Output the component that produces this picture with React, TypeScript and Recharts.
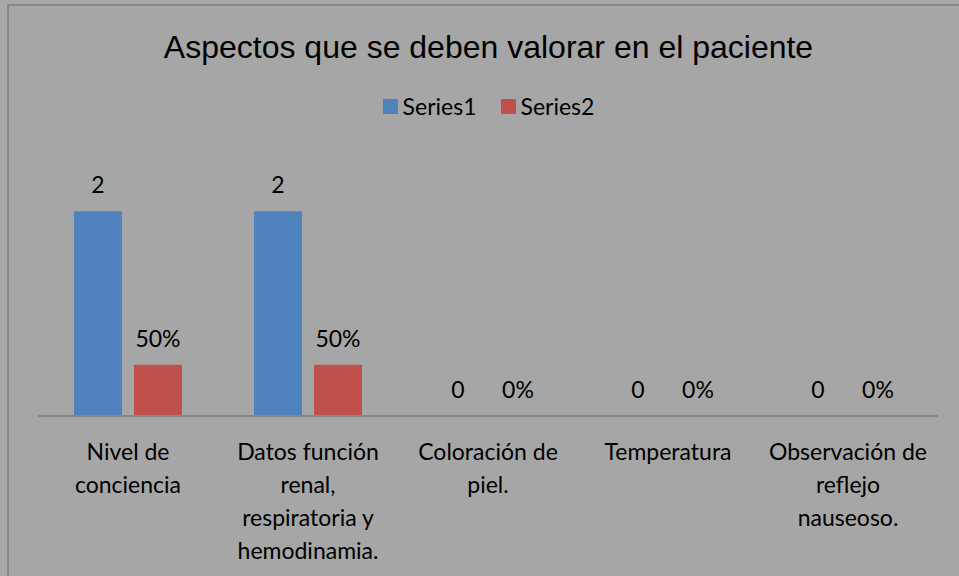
import React from 'react';
import { BarChart, Bar, XAxis, YAxis, Legend, LabelList } from 'recharts';

const categories = [
  'Nivel de conciencia',
  'Datos función renal, respiratoria y hemodinamia.',
  'Coloración de piel.',
  'Temperatura',
  'Observación de reflejo nauseoso.',
];
const tickLines = [
  ['Nivel de', 'conciencia'],
  ['Datos función', 'renal,', 'respiratoria y', 'hemodinamia.'],
  ['Coloración de', 'piel.'],
  ['Temperatura'],
  ['Observación de', 'reflejo', 'nauseoso.'],
];
const series1 = [2, 2, 0, 0, 0];
const series2 = [0.5, 0.5, 0, 0, 0];
const seriesNames = ['Series1', 'Series2'];
const title = 'Aspectos que se deben valorar en el paciente';

const data = categories.map((c, i) => ({ name: c, s1: series1[i], s2: series2[i], idx: i }));

const FONT = 'Lato, "Open Sans", sans-serif';
const BLUE = '#4F81BD';
const RED = '#C0504D';

const CatTick = (props: any) => {
  const { x, y, index } = props;
  const lines = tickLines[index] || [];
  return (
    <text x={x} y={y} textAnchor="middle" fill="#000" fontFamily={FONT} fontSize={23}>
      {lines.map((l, i) => (
        <tspan key={i} x={x} dy={i === 0 ? 44 : 33}>{l}</tspan>
      ))}
    </text>
  );
};

const makeLabel = (fmt: (v: number) => string) => (props: any) => {
  const { x, y, width, height, value } = props;
  const top = Math.min(Number(y), Number(y) + Number(height || 0));
  return (
    <text
      x={Number(x) + Number(width) / 2}
      y={top - 18}
      textAnchor="middle"
      fill="#000"
      fontFamily={FONT}
      fontSize={23}
    >
      {fmt(Number(value))}
    </text>
  );
};

const LegendContent = (props: any) => {
  const { payload } = props;
  return (
    <div style={{ display: 'flex', justifyContent: 'center', alignItems: 'center', height: 30 }}>
      {(payload || []).map((p: any, i: number) => (
        <div key={i} style={{ display: 'flex', alignItems: 'center', marginRight: i === 0 ? 24 : 0 }}>
          <div style={{ width: 15, height: 15, background: p.color, marginRight: 5 }} />
          <span style={{ fontFamily: FONT, fontSize: 23, color: '#000' }}>{p.value}</span>
        </div>
      ))}
    </div>
  );
};

export default function App() {
  return (
    <div style={{ position: 'fixed', left: 0, top: 0, width: 959, height: 576, background: '#A8A8A8', overflow: 'hidden' }}>
      <div style={{ position: 'absolute', left: 7, top: 4, width: 1000, height: 1000, borderLeft: '2px solid #878787', borderTop: '2px solid #878787', background: '#A6A6A6' }} />
      <div style={{ position: 'absolute', left: 0, top: 27, width: 977, textAlign: 'center', fontFamily: '"Liberation Sans", Arial, sans-serif', fontSize: 32, color: '#000', lineHeight: '40px' }}>
        {title}
      </div>
      <div style={{ position: 'absolute', left: 0, top: 0 }}>
        <BarChart
          width={959}
          height={576}
          data={data}
          margin={{ top: 160, right: 21, left: 38, bottom: 130 }}
          barCategoryGap={36}
          barGap={12}
        >
          <XAxis
            dataKey="name"
            height={30}
            axisLine={{ stroke: '#878787', strokeWidth: 2 }}
            tickLine={false}
            tickSize={0}
            tickMargin={0}
            interval={0}
            tick={<CatTick />}
          />
          <YAxis hide domain={[0, 2.5]} width={0} />
          <Legend
            verticalAlign="middle"
            layout="horizontal"
            content={<LegendContent />}
            wrapperStyle={{ top: 91, left: 0, width: 977 }}
          />
          <Bar dataKey="s1" name={seriesNames[0]} fill={BLUE} isAnimationActive={false} minPointSize={0.01}>
            <LabelList dataKey="s1" content={makeLabel((v) => `${v}`)} />
          </Bar>
          <Bar dataKey="s2" name={seriesNames[1]} fill={RED} isAnimationActive={false} minPointSize={0.01}>
            <LabelList dataKey="s2" content={makeLabel((v) => `${Math.round(v * 100)}%`)} />
          </Bar>
        </BarChart>
      </div>
    </div>
  );
}
